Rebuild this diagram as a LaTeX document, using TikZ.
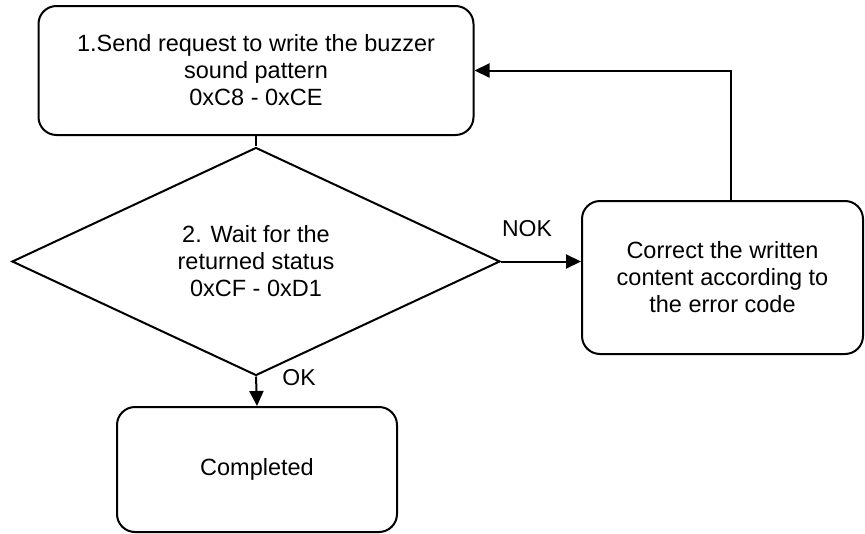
\documentclass[tikz,border=0pt]{standalone}
\usepackage{fontspec}
\setmainfont{Liberation Sans}
\usepackage{tikz}
\usetikzlibrary{arrows.meta,calc,positioning,shapes.geometric}

\begin{document}
\begin{tikzpicture}[x=1pt,y=-1pt,
  flowbox/.style={draw,rounded corners=18pt,line width=2pt,align=center,inner sep=0pt,font=\fontsize{23.5}{27}\selectfont},
  decision/.style={diamond,draw,line width=2pt,align=center,inner sep=0pt,font=\fontsize{23.5}{27}\selectfont},
  link/.style={line width=2pt},
  arr/.style={line width=2pt,-{Triangle[length=15pt,width=14pt]}},
  lbl/.style={font=\fontsize{23}{27}\selectfont}]
\useasboundingbox (0,0) rectangle (865,533);
\node[flowbox,minimum width=435pt,minimum height=129pt] (send) at (256,70.5){1.Send request to write the buzzer\\sound pattern\\0xC8 - 0xCE};
\node[decision,minimum width=488pt,minimum height=217pt] (wait) at (256,261.5){2. Wait for the\\returned status\\0xCF - 0xD1};
\node[flowbox,minimum width=280pt,minimum height=125pt] (done) at (257,469.5){Completed};
\node[flowbox,minimum width=281pt,minimum height=153pt] (fix) at (722.5,277.5){Correct the written\\content according to\\the error code};
\coordinate (fb) at ($(fix.north)+(8.5,0)$);
\draw[link] (send.south) -- (wait.north);
\draw[arr] (wait.south) -- (done.north);
\draw[arr] (wait.east) -- (wait.east -| fix.west);
\draw[arr] (fb) |- (send.east);
\node[lbl] (ok) at (299,378){OK};
\node[lbl] (nok) at (527,229){NOK};
\end{tikzpicture}
\end{document}
